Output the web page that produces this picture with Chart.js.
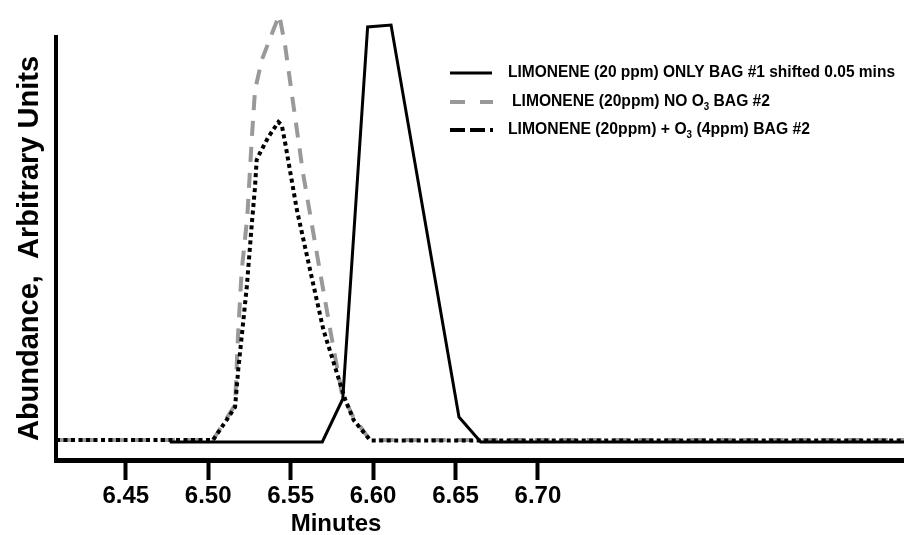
<!DOCTYPE html>
<html>
<head>
<meta charset="utf-8">
<script src="https://cdn.jsdelivr.net/npm/chart.js@4.4.1/dist/chart.umd.min.js"></script>
<style>
    html, body { margin: 0; padding: 0; background: #fff; }
    #box { width: 904px; height: 535px; }
</style>
</head>
<body>
<div id="box"><canvas id="grafico"></canvas></div>
<script>
// tempos (min) e abundancia (unidades arbitrarias)
const tempoBag1 = [6.4767, 6.5692, 6.5816, 6.5967, 6.6109, 6.6521, 6.6653, 6.922];
const abundBag1 = [18, 18, 61, 433, 435, 43, 18, 18];

const tempoSemO3 = [6.4077, 6.5029, 6.5163, 6.5181, 6.5203, 6.5237, 6.5264, 6.5284, 6.5325, 6.5395, 6.5431,
    6.5466, 6.5515, 6.5575, 6.5668, 6.5749, 6.5810, 6.5880, 6.5982, 6.922];
const abundSemO3 = [20, 20, 55, 125, 189, 243, 320, 370, 400, 430, 445,
    415, 357, 287, 198, 122, 67, 43, 20, 20];

const tempoComO3 = [6.4077, 6.5029, 6.5112, 6.5163, 6.5182, 6.5203, 6.5234, 6.5264, 6.5284, 6.5294, 6.5314,
    6.5365, 6.5426, 6.5446, 6.5467, 6.5538, 6.5618, 6.5699, 6.5832, 6.5882, 6.5984, 6.922];
const abundComO3 = [20, 20, 40, 53, 90, 123, 173, 235, 273, 300, 307,
    323, 338, 335, 317, 250, 190, 130, 60, 40, 19.5, 19.5];

const ticksX = [6.45, 6.50, 6.55, 6.60, 6.65, 6.70];

function pontos(xs, ys) {
    return xs.map((x, i) => ({ x: x, y: ys[i] }));
}

/**
 * Escreve um texto com partes em subscrito, ajustado a uma largura
 */
function textoLegenda(ctx, partes, x, y, largura) {
    const fonte = 'bold 16px "Liberation Sans", Arial, sans-serif';
    const fonteSub = 'bold 10px "Liberation Sans", Arial, sans-serif';
    let total = 0;
    partes.forEach(p => {
        ctx.font = p.sub ? fonteSub : fonte;
        total += ctx.measureText(p.t).width;
    });
    ctx.save();
    ctx.translate(x, y);
    ctx.scale(largura / total, 1);
    ctx.fillStyle = '#000';
    ctx.textBaseline = 'middle';
    let cx = 0;
    partes.forEach(p => {
        ctx.font = p.sub ? fonteSub : fonte;
        ctx.fillText(p.t, cx, p.sub ? 5 : 0);
        cx += ctx.measureText(p.t).width;
    });
    ctx.restore();
}

function amostra(ctx, cor, largura, tracos, y) {
    ctx.save();
    ctx.strokeStyle = cor;
    ctx.lineWidth = largura;
    tracos.forEach(t => {
        ctx.beginPath();
        ctx.moveTo(t[0], y);
        ctx.lineTo(t[1], y);
        ctx.stroke();
    });
    ctx.restore();
}

const legendaPlugin = {
    id: 'legendaManual',
    afterDraw(chart) {
        const ctx = chart.ctx;
        amostra(ctx, '#000', 3, [[450, 492]], 73);
        textoLegenda(ctx, [{ t: 'LIMONENE (20 ppm) ONLY BAG #1 shifted 0.05 mins' }], 508, 73, 387);

        amostra(ctx, '#999', 4, [[450, 465], [480, 493]], 102);
        textoLegenda(ctx, [{ t: 'LIMONENE (20ppm) NO O' }, { t: '3', sub: true }, { t: ' BAG #2' }], 512, 102, 258);

        amostra(ctx, '#000', 4, [[450, 465], [470, 485], [490, 493]], 130);
        textoLegenda(ctx, [{ t: 'LIMONENE (20ppm) + O' }, { t: '3', sub: true }, { t: ' (4ppm) BAG #2' }], 508, 130, 302);

        // titulo do eixo x, fora do centro do eixo
        ctx.save();
        ctx.font = 'bold 24px "Liberation Sans", Arial, sans-serif';
        ctx.fillStyle = '#000';
        ctx.textAlign = 'center';
        ctx.textBaseline = 'alphabetic';
        ctx.fillText('Minutes', 336, 531);
        ctx.restore();
    }
};

new Chart(document.getElementById('grafico'), {
    type: 'line',
    data: {
        datasets: [
            {
                label: 'LIMONENE (20 ppm) ONLY BAG #1 shifted 0.05 mins',
                data: pontos(tempoBag1, abundBag1),
                borderColor: '#000',
                borderWidth: 3,
                pointRadius: 0,
                clip: false
            },
            {
                label: 'LIMONENE (20ppm) + O3 (4ppm) BAG #2',
                data: pontos(tempoComO3, abundComO3),
                borderColor: '#000',
                borderWidth: 4,
                borderDash: [4, 3.5],
                pointRadius: 0,
                clip: false
            },
            {
                label: 'LIMONENE (20ppm) NO O3 BAG #2',
                data: pontos(tempoSemO3, abundSemO3),
                borderColor: '#999',
                borderWidth: 4,
                borderDash: [15, 11],
                pointRadius: 0,
                clip: false
            }
        ]
    },
    options: {
        responsive: true,
        maintainAspectRatio: false,
        animation: false,
        layout: { padding: { top: 37, right: 0, left: 0, bottom: 0 } },
        plugins: {
            legend: { display: false },
            tooltip: { enabled: false }
        },
        scales: {
            x: {
                type: 'linear',
                min: 6.4077,
                max: 6.922,
                afterBuildTicks: function (scale) {
                    scale.ticks = ticksX.map(v => ({ value: v }));
                },
                afterFit: function (scale) {
                    scale.height = 75;
                },
                ticks: {
                    autoSkip: false,
                    maxRotation: 0,
                    padding: 2,
                    color: '#000',
                    font: { family: '"Liberation Sans Narrow", "Liberation Sans", Arial, sans-serif', size: 24, weight: 'bold' },
                    callback: function (v) { return v.toFixed(2); }
                },
                grid: {
                    drawOnChartArea: false,
                    drawTicks: true,
                    tickLength: 20,
                    tickWidth: 4,
                    tickColor: '#000'
                },
                border: { color: '#000', width: 5 }
            },
            y: {
                min: 0,
                max: 423,
                afterFit: function (scale) {
                    scale.width = 56;
                },
                ticks: { display: false },
                grid: { display: false },
                border: { color: '#000', width: 4 },
                title: {
                    display: true,
                    text: 'Abundance,  Arbitrary Units',
                    color: '#000',
                    padding: { top: 13, bottom: 0 },
                    font: { family: '"Liberation Sans", Arial, sans-serif', size: 29, weight: 'bold' }
                }
            }
        }
    },
    plugins: [legendaPlugin]
});
</script>
</body>
</html>
